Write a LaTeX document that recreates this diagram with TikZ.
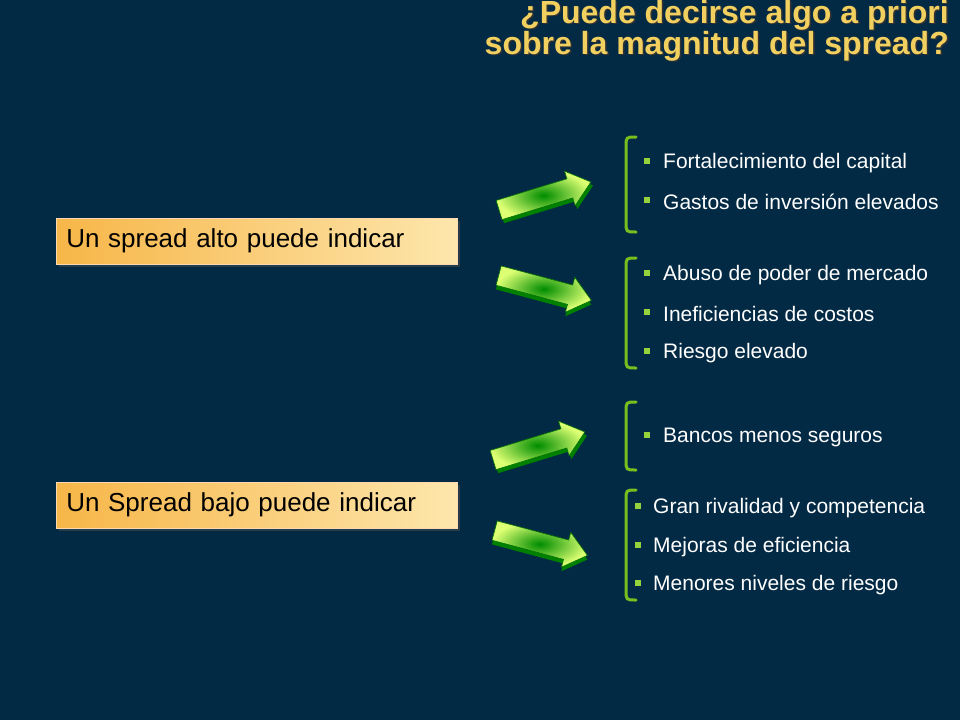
\documentclass[tikz,border=0pt]{standalone}
\usepackage{fontspec}
\setmainfont{Liberation Sans}
\usetikzlibrary{shadows}
\definecolor{bg}{RGB}{3,42,68}
\definecolor{ttl}{RGB}{242,208,96}
\definecolor{brk}{RGB}{120,190,30}
\definecolor{bul}{RGB}{150,210,60}
\definecolor{bl}{RGB}{247,182,72}
\definecolor{br}{RGB}{253,230,172}
\begin{document}
\begin{tikzpicture}[x=1pt,y=-1pt,
  lbox/.style={draw=white!70!orange,line width=0.5pt,left color=bl,right color=br,
     minimum width=401,minimum height=46,anchor=west,inner xsep=10,text width=381,
     font=\fontsize{26}{28}\selectfont,text=black,drop shadow={shadow xshift=3pt,shadow yshift=-3pt,fill=black!70}},
  itm/.style={anchor=west,text=white,font=\fontsize{21}{23}\selectfont,inner sep=0},
  bsq/.style={fill=bul,minimum size=5.5,inner sep=0},
  brkt/.style={draw=brk,line width=3pt,line cap=round}]
\fill[bg] (0,0) rectangle (960,720);
\useasboundingbox (0,0) rectangle (960,720);
\def\arrowshape{(-48,-10) -- (26,-10) -- (26,-18) -- (48,0) -- (26,18) -- (26,10) -- (-48,10) -- cycle}
% title
\foreach \c/\dx in {black!80/1.5,ttl/0}{
\node[anchor=north east,align=right,text=\c,font=\bfseries\fontsize{32}{27}\selectfont,inner sep=0] at (949+\dx,0+\dx) {¿Puede decirse algo a priori\\sobre la magnitud del spread?};}
\node[lbox] (hi) at (56,241) {Un spread alto puede indicar};
\node[lbox] (lo) at (56,505) {Un Spread bajo puede indicar};
\foreach \n/\x/\y/\r in {a1/545/196/17,a2/545/288/-15,a3/539/446/17,a4/541/543/-15}{
 \begin{scope}[shift={(\x,\y)},rotate=\r]
  \fill[green!50!black] [shift={(1,4)}] \arrowshape;
  \draw[green!45!black,line width=0.6pt,inner color=green!55!black,outer color=green!25!yellow!55] \arrowshape;
  \coordinate (\n) at (0,0);
 \end{scope}}
% brackets
\foreach \t/\b in {137/232,258/368,402/470,490/600}{
 \draw[brkt] (636,\t) .. controls (626,\t) .. (626,\t+10) -- (626,\b-10) .. controls (626,\b) .. (636,\b);}
\foreach \y/\s [count=\i] in {162/Fortalecimiento del capital,201/Gastos de inversión elevados,274/Abuso de poder de mercado,313/Ineficiencias de costos,352/Riesgo elevado,436/Bancos menos seguros}{
 \node[bsq] (b\i) at (647,\y-1) {};
 \node[itm] (t\i) at (663,\y+1) {\s};}
\foreach \y/\s [count=\i from 7] in {507/Gran rivalidad y competencia,546/Mejoras de eficiencia,584/Menores niveles de riesgo}{
 \node[bsq] (b\i) at (638,\y-1) {};
 \node[itm] (t\i) at (653,\y+1) {\s};}
\end{tikzpicture}
\end{document}
